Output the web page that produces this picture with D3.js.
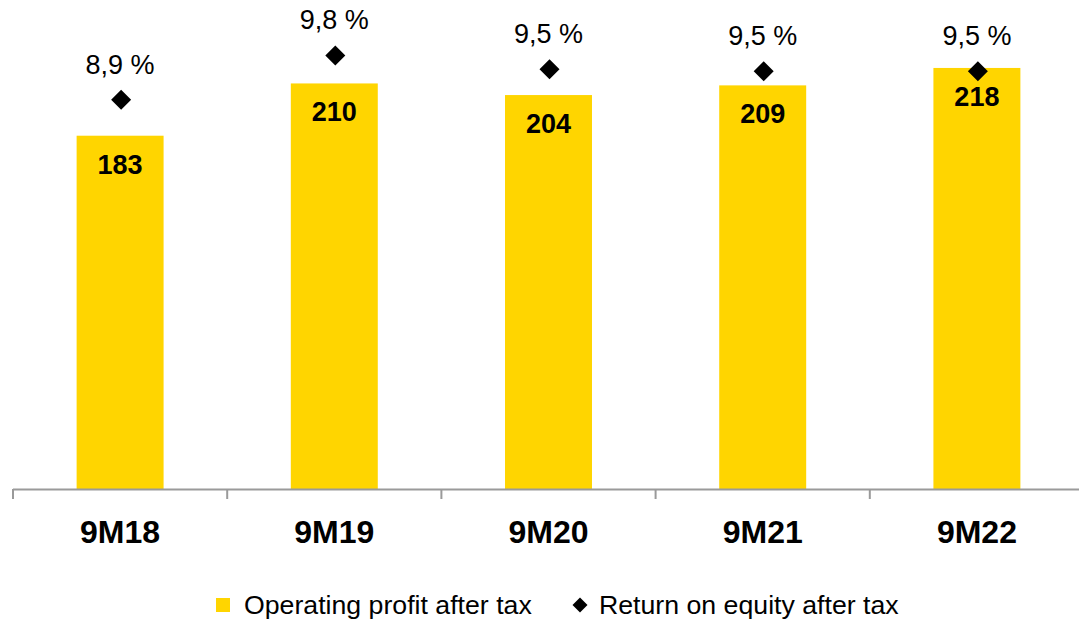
<!DOCTYPE html>
<html>
<head>
<meta charset="utf-8">
<script src="https://cdn.jsdelivr.net/npm/d3@7"></script>
<style>
  html, body { margin: 0; padding: 0; background: #fff; }
  svg { display: block; font-family: "Liberation Sans", Arial, sans-serif; }
</style>
</head>
<body>
<svg id="chart" width="1079" height="620"></svg>
<script>
// ---- data ----
const categories = ["9M18", "9M19", "9M20", "9M21", "9M22"];
const operatingProfit = [183, 210, 204, 209, 218];
const returnOnEquity = [8.9, 9.8, 9.52, 9.48, 9.48];
const legendLabels = ["Operating profit after tax", "Return on equity after tax"];

// ---- layout ----
const W = 1079, H = 620;
const baseY = 490, topY = 6;
const left = 13, right = 1084;
const barColor = "#FFD500";

const svg = d3.select("#chart");

const x = d3.scaleBand()
  .domain(categories)
  .range([left, right])
  .paddingInner(0.594)
  .paddingOuter(0.297);

const y = d3.scaleLinear().domain([0, 250]).range([baseY, topY]);
const y2 = d3.scaleLinear().domain([1, 10.8]).range([baseY, topY]);

const fmtPct = v => d3.format(".1f")(v).replace(".", ",") + " %";

// bars
svg.append("g").selectAll("rect")
  .data(categories)
  .join("rect")
  .attr("x", d => x(d))
  .attr("width", x.bandwidth())
  .attr("y", (d, i) => y(operatingProfit[i]))
  .attr("height", (d, i) => y(0) - y(operatingProfit[i]))
  .attr("fill", barColor);

// bar value labels
svg.append("g").selectAll("text")
  .data(categories)
  .join("text")
  .attr("x", d => x(d) + x.bandwidth() / 2)
  .attr("y", (d, i) => y(operatingProfit[i]) + 38)
  .attr("text-anchor", "middle")
  .attr("font-size", 27)
  .attr("font-weight", "bold")
  .attr("fill", "#000")
  .text((d, i) => operatingProfit[i]);

// x axis line
const axisG = svg.append("g");
axisG.append("line")
  .attr("x1", left).attr("x2", W)
  .attr("y1", y(0) - 0.5).attr("y2", y(0) - 0.5)
  .attr("stroke", "#9a9a9a").attr("stroke-width", 2);

// tick marks at band boundaries
const boundaries = categories.map(c => x(c) - x.step() * x.paddingInner() / 2)
  .concat([x(categories[categories.length - 1]) + x.bandwidth() + x.step() * x.paddingInner() / 2]);
axisG.selectAll("line.tick")
  .data(boundaries)
  .join("line")
  .attr("class", "tick")
  .attr("x1", d => d).attr("x2", d => d)
  .attr("y1", y(0) - 1).attr("y2", y(0) + 9)
  .attr("stroke", "#9a9a9a").attr("stroke-width", 2);

// category labels
axisG.selectAll("text")
  .data(categories)
  .join("text")
  .attr("x", d => x(d) + x.bandwidth() / 2)
  .attr("y", 543)
  .attr("text-anchor", "middle")
  .attr("font-size", 32)
  .attr("font-weight", "bold")
  .attr("fill", "#000")
  .text(d => d);

// ROE diamonds
const diamond = r => `M0,${-r}L${r},0L0,${r}L${-r},0Z`;
svg.append("g").selectAll("path")
  .data(categories)
  .join("path")
  .attr("transform", (d, i) => `translate(${x(d) + x.bandwidth() / 2 + 1},${y2(returnOnEquity[i])})`)
  .attr("d", diamond(10))
  .attr("fill", "#000");

// ROE labels
svg.append("g").selectAll("text")
  .data(categories)
  .join("text")
  .attr("x", d => x(d) + x.bandwidth() / 2)
  .attr("y", (d, i) => y2(returnOnEquity[i]) - 26)
  .attr("text-anchor", "middle")
  .attr("font-size", 27)
  .attr("fill", "#000")
  .text((d, i) => fmtPct(returnOnEquity[i]));

// legend
const leg = svg.append("g");
leg.append("rect")
  .attr("x", 216).attr("y", 598).attr("width", 14).attr("height", 14)
  .attr("fill", barColor);
leg.append("text")
  .attr("x", 244).attr("y", 614)
  .attr("font-size", 26.7).attr("fill", "#000")
  .text(legendLabels[0]);
leg.append("path")
  .attr("transform", "translate(580,605)")
  .attr("d", diamond(7.5))
  .attr("fill", "#000");
leg.append("text")
  .attr("x", 599).attr("y", 614)
  .attr("font-size", 26.7).attr("fill", "#000")
  .text(legendLabels[1]);
</script>
</body>
</html>
